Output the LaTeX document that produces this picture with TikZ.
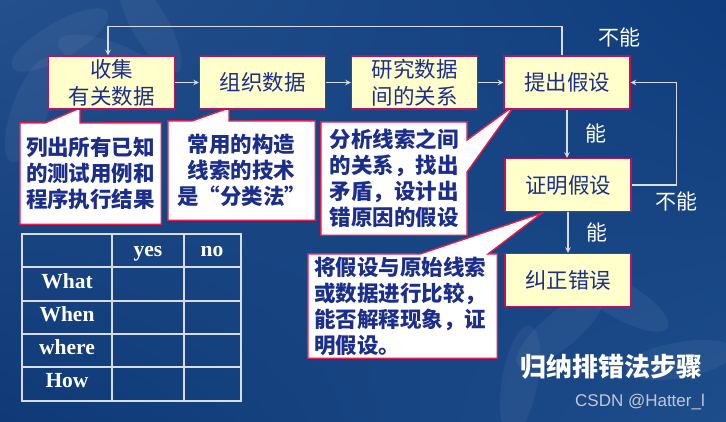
\documentclass[tikz,border=0pt]{standalone}
\usepackage{fontspec}
\setmainfont{Liberation Serif}
\setsansfont{Liberation Sans}
\newfontfamily\cjk{Noto Sans CJK SC}
\usetikzlibrary{backgrounds,shadings}
\definecolor{bgul}{HTML}{24508D}
\definecolor{bgur}{HTML}{0F3C7C}
\definecolor{bgll}{HTML}{0F3977}
\definecolor{bglr}{HTML}{1E4D8B}
\definecolor{boxfill}{HTML}{FFFFCC}
\definecolor{boxline}{HTML}{C0105A}
\definecolor{callline}{HTML}{E8194B}
\definecolor{inkblue}{HTML}{1B2E8C}
\definecolor{wire}{HTML}{D8DCE4}
\tikzset{
  stepbox/.style={draw=boxline, line width=1.4pt, fill=boxfill, minimum width=126pt,
    minimum height=53pt, inner sep=0pt, align=center, text=inkblue,
    font=\cjk\fontsize{21.5}{27}\selectfont},
  callout/.style={inner sep=0pt, text=inkblue,
    font=\cjk\bfseries\fontsize{21.5}{26}\selectfont},
  calloutline/.style={draw=callline, line width=1.4pt, fill=white, line join=miter},
  wire/.style={draw=wire, line width=1.4pt},
  answer/.style={text=white, font=\cjk\fontsize{21}{24}\selectfont},
  tabtext/.style={text=white, anchor=base, font=\bfseries\fontsize{21.5}{24}\selectfont}
}
\begin{document}
\begin{tikzpicture}[x=1pt, y=-1pt, >=stealth]
\useasboundingbox (0,0) rectangle (726,421);
% steps
\node[stepbox] (collect) at (111.5,82.5) {收集\\有关数据};
\node[stepbox] (organize) at (262.5,82.5) {组织数据};
\node[stepbox] (study) at (414.5,82.5) {研究数据\\间的关系};
\node[stepbox] (propose) at (567,82.5) {提出假设};
\node[stepbox] (verify) at (568,185) {证明假设};
\node[stepbox] (correct) at (568,280) {纠正错误};
\draw[wire,->] (collect) -- (organize);
\draw[wire,->] (organize) -- (study);
\draw[wire,->] (study) -- (propose);
\draw[wire,->] (propose.south) -- node[answer, right=14pt] (yes1) {能} (propose.south |- verify.north);
\draw[wire,->] (verify) -- node[answer, right=14pt] (yes2) {能} (correct);
\draw[wire,->] ([xshift=-5pt]propose.north) -- ++(0,-29) -| ([xshift=-3.5pt]collect.north);
\draw[wire,->] (verify.east) -- ++(45,0) |- (propose.east);
\node[answer] (no1) at (619,37) {不能};
\node[answer] (no2) at (676,201) {不能};
% callouts
\node[callout, minimum width=141pt, minimum height=101pt, align=center] (tips1) at (90.5,173.5)
  {列出所有已知\\的测试用例和\\程序执行结果};
\node[callout, minimum width=147pt, minimum height=99pt, align=center] (tips2) at (241.5,170.5)
  {常用的构造\\线索的技术\\是“分类法”};
\node[callout, minimum width=146pt, minimum height=113pt, align=left] (tips3) at (394,178.5)
  {分析线索之间\\的关系，找出\\矛盾，设计出\\错原因的假设};
\node[callout, minimum width=189pt, minimum height=104pt, align=left, text width=177pt] (tips4) at (402.5,306)
  {将假设与原始线索\\或数据进行比较，\\能否解释现象，证\\明假设。};
% table
\draw[wire] (22,234) rectangle (241,401);
\draw[wire] (112,234) -- (112,401) (184,234) -- (184,401);
\foreach \r in {267,301,334,367} \draw[wire] (22,\r) -- (241,\r);
\node[tabtext] (colyes) at (148,256) {yes};
\node[tabtext] (colno) at (212,256) {no};
\foreach \w [count=\i] in {What,When,where,How}
  \node[tabtext] (row\i) at (67,{255+33*\i}) {\w};
% title and mark
\node[text=white, font=\cjk\bfseries\fontsize{26}{30}\selectfont] (title) at (611,367) {归纳排错法步骤};
\node[text=white!75!gray, opacity=0.85, font=\sffamily\fontsize{17}{20}\selectfont] (mark) at (640,402) {CSDN @Hatter\_l};
\begin{scope}[on background layer]
\shade[upper left=bgul, upper right=bgur, lower left=bgll, lower right=bglr] (0,0) rectangle (726,421);
% faint lilies
\foreach \cx/\cy/\rot in {60/40/30, 110/60/-20, 30/110/70, 150/25/-60, 560/330/40, 620/300/-30, 520/380/80, 680/360/10}
  \fill[white, opacity=0.05, rotate around={\rot:(\cx,\cy)}] (\cx,\cy) ellipse (55 and 18);
\draw[calloutline] (tips1.north west) -- (45,123) -- (80,108) -- (80,123) -- (tips1.north east)
  -- (tips1.south east) -- (tips1.south west) -- cycle;
\draw[calloutline] (tips2.north west) -- (192,121) -- (229,108) -- (229,121) -- (tips2.north east)
  -- (tips2.south east) -- (tips2.south west) -- cycle;
\draw[calloutline] (tips3.north west) -- (tips3.north east) -- (467,140) -- (515,105) -- (467,172)
  -- (tips3.south east) -- (tips3.south west) -- cycle;
\draw[calloutline] (tips4.north west) -- (420,254) -- (542,213) -- (488,254) -- (tips4.north east)
  -- (tips4.south east) -- (tips4.south west) -- cycle;
\end{scope}
\end{tikzpicture}
\end{document}
